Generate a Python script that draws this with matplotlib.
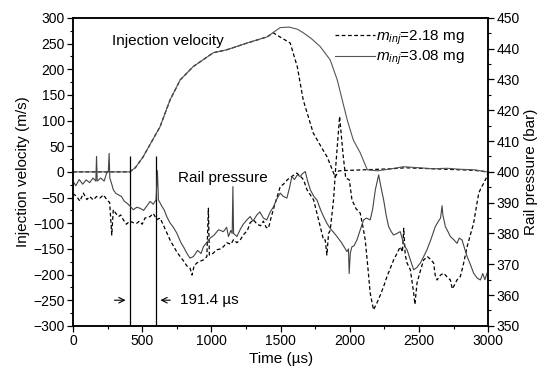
"""Injection velocity and rail pressure for two injected masses."""

import matplotlib
matplotlib.use("Agg")
import matplotlib.pyplot as plt
from matplotlib.lines import Line2D
from matplotlib.ticker import MultipleLocator

plt.rcParams["font.family"] = ["Liberation Sans", "DejaVu Sans"]
plt.rcParams["mathtext.fontset"] = "custom"
plt.rcParams["mathtext.it"] = "Liberation Sans:italic"
plt.rcParams["mathtext.rm"] = "Liberation Sans"

# injection velocity (m/s), m_inj = 2.18 mg
t_vel_a = [0, 410, 450, 506, 560, 629, 701, 774, 868, 1013, 1113, 1258, 1403,
           1446, 1500, 1569, 1620, 1663, 1735, 1790, 1836, 1894, 1920, 2000,
           2100, 2200, 2300, 2400, 2500, 2600, 2700, 2800, 2900, 2990]
vel_a = [0, 0, 8, 29, 55, 88, 140, 179, 205, 232, 238, 251, 263,
         271, 262, 251, 205, 140, 76, 50, 29, -10, 2, 3,
         4, 5, 6, 8, 7, 6, 5, 4, 3, 0]

# injection velocity (m/s), m_inj = 3.08 mg
t_vel_b = [0, 410, 450, 506, 560, 629, 701, 774, 868, 1013, 1113, 1258, 1403,
           1475, 1497, 1560, 1620, 1663, 1720, 1786, 1858, 1909, 1945, 1981,
           2025, 2075, 2126, 2200, 2300, 2386, 2500, 2600, 2700, 2800, 2900, 2990]
vel_b = [0, 0, 8, 29, 55, 88, 140, 179, 205, 232, 238, 251, 263,
         277, 281, 282, 278, 271, 260, 244, 218, 179, 140, 101,
         62, 37, 4, 2, 6, 10, 8, 6, 7, 5, 4, 0]

# rail pressure (bar), m_inj = 2.18 mg
t_p_a = [0, 26, 50, 75, 100, 120, 147, 170, 195, 219, 245, 265, 280, 291, 310,
         330, 345, 364, 385, 410, 435, 460, 480, 500, 520, 557, 580, 605, 629,
         650, 675, 701, 725, 750, 774, 800, 822, 846, 860, 875, 894, 920, 945,
         967, 978, 985, 1010, 1039, 1065, 1087, 1110, 1140, 1160, 1184, 1208,
         1230, 1260, 1280, 1304, 1330, 1355, 1375, 1395, 1412, 1430, 1455, 1475,
         1497, 1520, 1550, 1580, 1617, 1645, 1666, 1690, 1715, 1738, 1762, 1785,
         1810, 1822, 1834, 1846, 1858, 1882, 1900, 1926, 1950, 1970, 1996, 2015,
         2045, 2075, 2095, 2111, 2130, 2147, 2171, 2195, 2220, 2244, 2268, 2290,
         2316, 2340, 2364, 2380, 2389, 2400, 2413, 2437, 2450, 2461, 2470, 2485,
         2510, 2533, 2560, 2585, 2605, 2618, 2630, 2655, 2678, 2700, 2726, 2740,
         2750, 2775, 2798, 2820, 2847, 2870, 2894, 2915, 2931, 2950, 2967, 2985,
         3000]
p_a = [393, 392, 390.5, 393.1, 391, 392, 390.9, 392, 391.5, 392.5, 391, 390,
       379.5, 387.7, 386.5, 385.5, 386, 384.4, 383, 384, 383.5, 383.3, 384, 383,
       385, 385.5, 386.5, 384.5, 385, 383, 380.5, 377.9, 376, 374, 372.5, 371,
       369.5, 368.7, 366.5, 369.5, 370.4, 371, 371.5, 372.5, 388.2, 373, 373.5,
       374.7, 375, 375.7, 377, 376.5, 378, 377, 377.9, 379.5, 381, 383.5, 384.4,
       383, 382.5, 384, 382, 381.7, 385, 389, 392, 395.2, 396, 397.5, 398.5,
       399.6, 398.5, 397.4, 394.2, 392.5, 390.9, 386.6, 382.5, 377.9, 377.9, 373,
       380, 381, 390.9, 403, 418, 406, 398, 397.4, 390.9, 388, 386.6, 382, 377.9,
       369, 360.6, 355.2, 357.4, 360, 362.8, 366, 368.5, 371.4, 373.5, 375.7,
       374, 381.7, 373, 370.4, 368.2, 364, 360.6, 357, 363.9, 368, 371.4, 372.5,
       371.5, 370.4, 366, 364.9, 366.5, 367.1, 366, 364.9, 362, 362.8, 365, 366,
       370, 375.7, 379.5, 383.3, 389, 393.1, 395, 396.3, 398, 400]

# rail pressure (bar), m_inj = 3.08 mg
t_p_b = [0, 20, 45, 70, 95, 120, 145, 165, 170, 175, 200, 225, 243, 255, 261,
         266, 280, 291, 310, 330, 350, 370, 388, 410, 436, 460, 484, 510, 535,
         557, 580, 600, 610, 617, 640, 660, 677, 700, 725, 750, 780, 800, 822,
         845, 870, 900, 925, 942, 965, 991, 1020, 1051, 1087, 1110, 1123, 1140,
         1150, 1155, 1160, 1184, 1210, 1230, 1256, 1280, 1300, 1328, 1350, 1375,
         1400, 1425, 1449, 1470, 1497, 1520, 1545, 1565, 1581, 1600, 1620, 1641,
         1660, 1678, 1695, 1714, 1740, 1762, 1790, 1810, 1834, 1860, 1880, 1907,
         1940, 1960, 1979, 1990, 1995, 2003, 2015, 2030, 2051, 2075, 2099, 2120,
         2147, 2165, 2184, 2208, 2225, 2244, 2262, 2280, 2300, 2316, 2340, 2364,
         2380, 2395, 2413, 2437, 2461, 2485, 2509, 2533, 2557, 2585, 2617, 2640,
         2655, 2666, 2672, 2690, 2710, 2726, 2750, 2774, 2790, 2810, 2830, 2847,
         2870, 2894, 2920, 2943, 2960, 2975, 2991]
p_b = [397, 395.5, 397.5, 396, 397.4, 396.5, 398, 397, 405, 397, 398, 397,
       399.6, 400, 406, 398, 396, 394.2, 393, 392.5, 392, 390.5, 389.9, 389,
       387.7, 388.5, 388.2, 387.5, 389, 390.4, 389.5, 391, 400.4, 390.9, 389,
       387.5, 385.5, 383.5, 382, 380.1, 377, 375.5, 373.6, 372, 372.5, 374.5,
       373.5, 375.7, 377, 378.5, 379.5, 381.2, 380.6, 382, 379, 381, 380, 395.2,
       380, 379, 381.5, 383, 384.4, 385.5, 384, 386, 387, 385, 384.4, 387, 388.7,
       391, 393.1, 392, 391.5, 395, 398.5, 397.5, 399, 398.5, 399.5, 400.1, 397,
       394.2, 392, 390.9, 387.5, 385.5, 383.3, 381.5, 380.5, 379, 377, 375.5,
       374.1, 375, 367, 373.6, 375.7, 376, 377.9, 381.2, 384.4, 385, 384.4, 388,
       394.2, 399, 395, 390.9, 386, 382.2, 380.5, 379.5, 380, 380.6, 378, 376,
       374.7, 371.5, 368.2, 369, 370.4, 372.5, 374.7, 378, 382.2, 384, 385, 389,
       386, 382.2, 380.5, 379, 378, 376.8, 378.5, 377.9, 375, 372.5, 370, 367.1,
       365.5, 364.9, 367, 365, 367.1]

# needle-lift delay markers
t_marks = [410, 601.4]
delay_label = "191.4 \u00b5s"


def main():
    fig = plt.figure(figsize=(5.53, 3.72), dpi=100)
    ax = fig.add_axes([0.132, 0.124, 0.751, 0.828])
    ax2 = ax.twinx()

    dash = (0, (3, 2))
    ax.plot(t_vel_a, vel_a, color="black", lw=0.9, ls=dash)
    ax.plot(t_vel_b, vel_b, color="#555555", lw=0.8)
    ax2.plot(t_p_a, p_a, color="black", lw=0.9, ls=dash)
    ax2.plot(t_p_b, p_b, color="#444444", lw=0.8)

    ax.vlines(t_marks, -300, 30, color="black", lw=0.9)
    ax.annotate("", xy=(t_marks[0] - 10, -250), xytext=(279, -250),
                arrowprops=dict(arrowstyle="->", lw=0.8, color="black"))
    ax.annotate("", xy=(t_marks[1] + 10, -250), xytext=(723, -250),
                arrowprops=dict(arrowstyle="->", lw=0.8, color="black"))
    ax.text(775, -250, delay_label, fontsize=11, va="center", ha="left")

    ax.text(282, 255, "Injection velocity", fontsize=11, va="center")
    ax.text(759, -12, "Rail pressure", fontsize=11, va="center")

    ax.set_xlim(0, 3000)
    ax.set_ylim(-300, 300)
    ax2.set_ylim(350, 450)
    ax.xaxis.set_major_locator(MultipleLocator(500))
    ax.xaxis.set_minor_locator(MultipleLocator(250))
    ax.yaxis.set_major_locator(MultipleLocator(50))
    ax.yaxis.set_minor_locator(MultipleLocator(25))
    ax2.yaxis.set_major_locator(MultipleLocator(10))
    ax2.yaxis.set_minor_locator(MultipleLocator(5))

    for a in (ax, ax2):
        a.tick_params(which="major", direction="out", length=4, width=0.9,
                      labelsize=10, pad=2)
        a.tick_params(which="minor", direction="out", length=2, width=0.8)
        for sp in a.spines.values():
            sp.set_linewidth(1.1)

    ax.set_xlabel("Time (\u00b5s)", fontsize=11, labelpad=3)
    ax.set_ylabel("Injection velocity (m/s)", fontsize=11, labelpad=2)
    ax2.set_ylabel("Rail pressure (bar)", fontsize=11, labelpad=3)

    handles = [
        Line2D([], [], color="black", lw=0.9, ls=dash),
        Line2D([], [], color="#555555", lw=0.8),
    ]
    labels = [r"$m_{inj}$=2.18 mg", r"$m_{inj}$=3.08 mg"]
    ax2.legend(handles, labels, loc="upper right", frameon=False,
               fontsize=11, handlelength=2.6, handletextpad=0.1,
               labelspacing=0.15, borderaxespad=0.3,
               bbox_to_anchor=(0.97, 1.0))

    fig.savefig("out.png", dpi=100)
    plt.close(fig)


if __name__ == "__main__":
    main()
